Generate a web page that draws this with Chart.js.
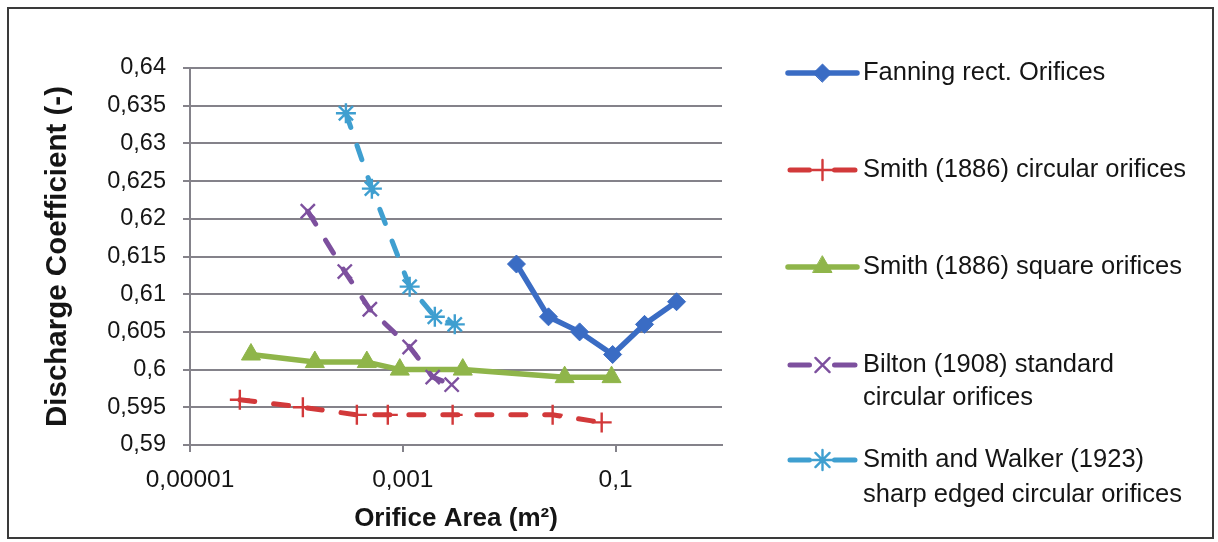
<!DOCTYPE html>
<html>
<head>
<meta charset="utf-8">
<script src="https://cdn.jsdelivr.net/npm/chart.js@4.4.1/dist/chart.umd.min.js"></script>
<style>
  html, body { margin: 0; padding: 0; background: #ffffff; }
  #wrap { width: 1218px; height: 542px; position: relative; }
  canvas { display: block; }
</style>
</head>
<body>
<div id="wrap"><canvas id="cd" width="1218" height="542"></canvas></div>
<script>
// Axis ticks
const xTickValues = [1e-5, 1e-3, 1e-1];
const xTickLabels = ['0,00001', '0,001', '0,1'];
const yTickValues = [0.59, 0.595, 0.6, 0.605, 0.61, 0.615, 0.62, 0.625, 0.63, 0.635, 0.64];
const yTickLabels = ['0,59', '0,595', '0,6', '0,605', '0,61', '0,615', '0,62', '0,625', '0,63', '0,635', '0,64'];

// Series names (legend text, one entry per line)
const seriesNames = [
  ['Fanning rect. Orifices'],
  ['Smith (1886) circular orifices'],
  ['Smith (1886) square orifices'],
  ['Bilton (1908) standard', 'circular orifices'],
  ['Smith and Walker (1923)', 'sharp edged circular orifices']
];

// Orifice area (m²) and discharge coefficient for each series
const fanningArea = [0.0117, 0.0234, 0.0459, 0.0938, 0.187, 0.374];
const fanningCd   = [0.614, 0.607, 0.605, 0.602, 0.606, 0.609];

const smithCircArea = [2.94e-5, 1.15e-4, 3.70e-4, 7.23e-4, 2.94e-3, 0.0256, 0.074];
const smithCircCd   = [0.596, 0.595, 0.594, 0.594, 0.594, 0.594, 0.593];

const smithSqArea = [3.74e-5, 1.49e-4, 4.59e-4, 9.37e-4, 3.66e-3, 0.0332, 0.0916];
const smithSqCd   = [0.602, 0.601, 0.601, 0.600, 0.600, 0.599, 0.599];

const biltonArea = [1.28e-4, 2.85e-4, 4.90e-4, 1.16e-3, 1.91e-3, 2.88e-3];
const biltonCd   = [0.621, 0.613, 0.608, 0.603, 0.599, 0.598];

const walkerArea = [2.92e-4, 5.12e-4, 1.16e-3, 2.0e-3, 3.08e-3];
const walkerCd   = [0.634, 0.624, 0.611, 0.607, 0.606];

const FONT = "'Liberation Sans', Arial, Helvetica, sans-serif";
const TEXT = '#151515';
const GRID = '#84828a';

const pairs = (xs, ys) => xs.map((x, i) => ({ x: x, y: ys[i] }));

const styles = [
  { color: '#3a6cc4', dash: [], width: 5.5, point: 'rectRot', radius: 9, pbw: 1 },
  { color: '#d2393a', dash: [15, 19], width: 5, point: 'cross', radius: 10, pbw: 2.4 },
  { color: '#8fb54a', dash: [], width: 5.5, point: 'triangle', radius: 11, pbw: 1 },
  { color: '#7d509e', dash: [15, 19], width: 5, point: 'crossRot', radius: 10, pbw: 2.4 },
  { color: '#3f9fd0', dash: [15, 19], width: 5, point: 'star', radius: 10, pbw: 2.4 }
];

const seriesData = [
  pairs(fanningArea, fanningCd),
  pairs(smithCircArea, smithCircCd),
  pairs(smithSqArea, smithSqCd),
  pairs(biltonArea, biltonCd),
  pairs(walkerArea, walkerCd)
];

const datasets = seriesData.map((d, i) => ({
  label: seriesNames[i].join(' '),
  data: d,
  showLine: true,
  borderColor: styles[i].color,
  backgroundColor: styles[i].color,
  borderWidth: styles[i].width,
  borderDash: styles[i].dash,
  borderCapStyle: 'round',
  borderJoinStyle: 'round',
  pointStyle: styles[i].point,
  pointRadius: styles[i].radius,
  pointBorderWidth: styles[i].pbw,
  pointBorderColor: styles[i].color,
  pointBackgroundColor: styles[i].color,
  order: 5 - i
}));

// Frame around the whole figure
const framePlugin = {
  id: 'frame',
  beforeDraw(chart) {
    const c = chart.ctx;
    c.save();
    c.fillStyle = '#ffffff';
    c.fillRect(0, 0, chart.width, chart.height);
    c.restore();
  },
  afterDraw(chart) {
    const c = chart.ctx;
    c.save();
    c.strokeStyle = '#3a3a3a';
    c.lineWidth = 2;
    c.strokeRect(8, 8, 1205, 530);
    c.restore();
  }
};

// Legend on the right with wrapped labels
const legendLayout = { x0: 788, x1: 857, textX: 863, rows: [73, 170, 267, 365, 460], lineGaps: [0, 0, 0, 33, 35] };
const sideLegend = {
  id: 'sideLegend',
  afterDraw(chart) {
    const c = chart.ctx;
    const L = legendLayout;
    const xm = (L.x0 + L.x1) / 2;
    chart.data.datasets.forEach((ds, i) => {
      const y = L.rows[i];
      c.save();
      c.strokeStyle = ds.borderColor;
      c.lineWidth = ds.borderWidth;
      c.lineCap = 'round';
      c.setLineDash([]);
      c.beginPath();
      if (ds.borderDash && ds.borderDash.length) {
        c.moveTo(L.x0 + 2, y); c.lineTo(xm - 13, y);
        c.moveTo(xm + 12, y); c.lineTo(L.x1 - 2, y);
      } else {
        c.moveTo(L.x0, y); c.lineTo(L.x1, y);
      }
      c.stroke();
      c.fillStyle = ds.pointBackgroundColor;
      c.strokeStyle = ds.pointBorderColor;
      c.lineWidth = ds.pointBorderWidth;
      Chart.helpers.drawPoint(c, {
        pointStyle: ds.pointStyle, radius: ds.pointRadius, rotation: 0, borderWidth: ds.pointBorderWidth
      }, xm, y);
      c.fillStyle = TEXT;
      c.font = '25.5px ' + FONT;
      c.textAlign = 'left';
      c.textBaseline = 'middle';
      seriesNames[i].forEach((t, k) => c.fillText(t, L.textX, y + k * L.lineGaps[i]));
      c.restore();
    });
  }
};

new Chart(document.getElementById('cd'), {
  type: 'scatter',
  data: { datasets: datasets },
  plugins: [framePlugin, sideLegend],
  options: {
    responsive: false,
    animation: false,
    devicePixelRatio: 1,
    layout: { padding: { left: 0, right: 496, top: 68, bottom: 0 } },
    plugins: { legend: { display: false }, tooltip: { enabled: false } },
    scales: {
      x: {
        type: 'logarithmic',
        min: 1e-5,
        max: 1,
        afterBuildTicks(scale) { scale.ticks = xTickValues.map(v => ({ value: v, major: true })); },
        afterFit(scale) { scale.height = 97; },
        ticks: {
          autoSkip: false,
          maxRotation: 0,
          padding: 14,
          color: TEXT,
          font: { family: FONT, size: 24.5 },
          callback: (v, i) => xTickLabels[i]
        },
        grid: { drawOnChartArea: false, drawTicks: true, tickLength: 7, color: GRID, lineWidth: 2 },
        border: { display: true, color: GRID, width: 2 },
        title: {
          display: true,
          text: 'Orifice Area (m²)',
          color: TEXT,
          font: { family: FONT, size: 26, weight: 'bold' },
          padding: { top: 0, bottom: 8 }
        }
      },
      y: {
        min: 0.59,
        max: 0.64,
        afterBuildTicks(scale) { scale.ticks = yTickValues.map(v => ({ value: v })); },
        afterFit(scale) { scale.width = 190; },
        ticks: {
          padding: 17,
          color: TEXT,
          font: { family: FONT, size: 23.5 },
          callback: (v, i) => yTickLabels[i]
        },
        grid: { drawTicks: true, tickLength: 7, color: GRID, lineWidth: 2 },
        border: { display: true, color: GRID, width: 2 },
        title: {
          display: true,
          text: 'Discharge Coefficient (-)',
          color: TEXT,
          font: { family: FONT, size: 29.5, weight: 'bold' },
          padding: { top: 40, bottom: 0 }
        }
      }
    }
  }
});
</script>
</body>
</html>
